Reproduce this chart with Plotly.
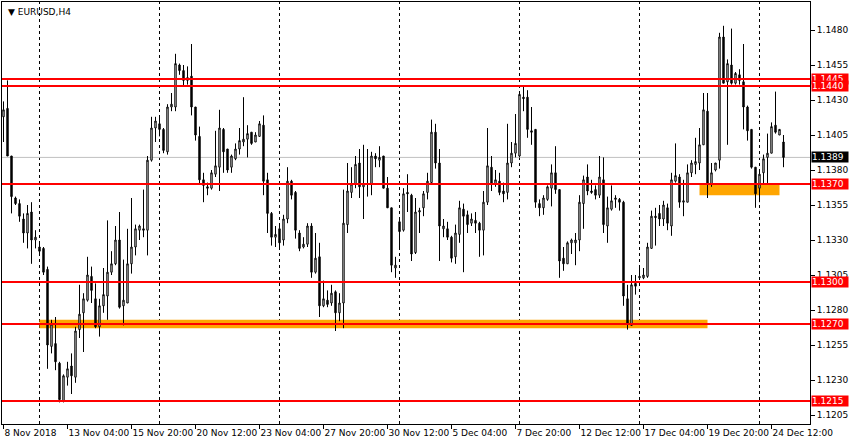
import plotly.graph_objects as go

# EURUSD H4 bars, 8 Nov 2018 12:00 .. 24 Dec 2018 20:00 (one entry per 4h bar)
open_ = [
    1.1418, 1.1424, 1.1390, 1.1360, 1.1356, 1.1345, 1.1335, 1.1350, 1.1330, 1.1325,
    1.1324, 1.1309, 1.1254, 1.1256, 1.1242, 1.1215, 1.1232, 1.1240, 1.1232, 1.1266,
    1.1278, 1.1287, 1.1304, 1.1288, 1.1268, 1.1283, 1.1290, 1.1307, 1.1313, 1.1330,
    1.1283, 1.1285, 1.1313, 1.1325, 1.1337, 1.1338, 1.1337, 1.1387, 1.1410, 1.1413,
    1.1409, 1.1393, 1.1425, 1.1425, 1.1455, 1.1451, 1.1444, 1.1447, 1.1425, 1.1404,
    1.1373, 1.1368, 1.1367, 1.1377, 1.1382, 1.1409, 1.1395, 1.1382, 1.1388, 1.1395,
    1.1400, 1.1402, 1.1407, 1.1400, 1.1404, 1.1412, 1.1373, 1.1349, 1.1332, 1.1338,
    1.1330, 1.1345, 1.1372, 1.1364, 1.1335, 1.1325, 1.1327, 1.1340, 1.1307, 1.1318,
    1.1283, 1.1287, 1.1285, 1.1293, 1.1278, 1.1285, 1.1341, 1.1364, 1.1370, 1.1385,
    1.1368, 1.1370, 1.1370, 1.1390, 1.1387, 1.1390, 1.1367, 1.1353, 1.1310, 1.1343,
    1.1337, 1.1364, 1.1362, 1.1321, 1.1350, 1.1353, 1.1364, 1.1371, 1.1407, 1.1385,
    1.1338, 1.1338, 1.1332, 1.1318, 1.1334, 1.1352, 1.1348, 1.1342, 1.1344, 1.1342,
    1.1337, 1.1357, 1.1382, 1.1370, 1.1372, 1.1365, 1.1364, 1.1385, 1.1392, 1.1390,
    1.1432, 1.1432, 1.1408, 1.1409, 1.1356, 1.1353, 1.1359, 1.1367, 1.1378, 1.1366,
    1.1317, 1.1313, 1.1328, 1.1328, 1.1330, 1.1356, 1.1375, 1.1365, 1.1366, 1.1362,
    1.1373, 1.1340, 1.1352, 1.1359, 1.1359, 1.1357, 1.1288, 1.1269, 1.1299, 1.1303,
    1.1303, 1.1304, 1.1324, 1.1347, 1.1349, 1.1345, 1.1353, 1.1340, 1.1372, 1.1375,
    1.1357, 1.1357, 1.1378, 1.1384, 1.1385, 1.1398, 1.1422, 1.1370, 1.1380, 1.1387,
    1.1475, 1.1443, 1.1455, 1.1442, 1.1448, 1.1443, 1.1425, 1.1409, 1.1382, 1.1367,
    1.1378, 1.1389, 1.1392, 1.1412, 1.1405, 1.1400,
]
high = [
    1.1429, 1.1444, 1.1390, 1.1361, 1.1359, 1.1349, 1.1355, 1.1357, 1.1337, 1.1328,
    1.1325, 1.1311, 1.1273, 1.1275, 1.1243, 1.1234, 1.1243, 1.1249, 1.1268, 1.1298,
    1.1292, 1.1318, 1.1311, 1.1299, 1.1288, 1.1310, 1.1344, 1.1322, 1.1340, 1.1350,
    1.1316, 1.1338, 1.1360, 1.1341, 1.1341, 1.1366, 1.1390, 1.1418, 1.1418, 1.1419,
    1.1410, 1.1427, 1.1435, 1.1463, 1.1456, 1.1455, 1.1454, 1.1470, 1.1425, 1.1411,
    1.1378, 1.1371, 1.1380, 1.1408, 1.1423, 1.1410, 1.1395, 1.1391, 1.1399, 1.1410,
    1.1432, 1.1412, 1.1407, 1.1407, 1.1415, 1.1419, 1.1378, 1.1350, 1.1340, 1.1341,
    1.1348, 1.1382, 1.1373, 1.1365, 1.1337, 1.1332, 1.1342, 1.1342, 1.1335, 1.1328,
    1.1301, 1.1294, 1.1298, 1.1294, 1.1292, 1.1366, 1.1385, 1.1382, 1.1390, 1.1395,
    1.1398, 1.1395, 1.1393, 1.1392, 1.1397, 1.1390, 1.1375, 1.1353, 1.1318, 1.1346,
    1.1367, 1.1377, 1.1363, 1.1360, 1.1353, 1.1365, 1.1378, 1.1416, 1.1413, 1.1395,
    1.1345, 1.1343, 1.1333, 1.1341, 1.1358, 1.1356, 1.1351, 1.1349, 1.1350, 1.1343,
    1.1365, 1.1410, 1.1390, 1.1380, 1.1378, 1.1371, 1.1413, 1.1400, 1.1420, 1.1435,
    1.1440, 1.1437, 1.1425, 1.1409, 1.1359, 1.1362, 1.1369, 1.1384, 1.1397, 1.1366,
    1.1325, 1.1329, 1.1331, 1.1335, 1.1362, 1.1376, 1.1384, 1.1373, 1.1369, 1.1390,
    1.1389, 1.1361, 1.1369, 1.1362, 1.1360, 1.1358, 1.1298, 1.1305, 1.1305, 1.1310,
    1.1310, 1.1328, 1.1351, 1.1353, 1.1355, 1.1358, 1.1356, 1.1378, 1.1399, 1.1377,
    1.1373, 1.1384, 1.1387, 1.1403, 1.1410, 1.1435, 1.1435, 1.1385, 1.1385, 1.1478,
    1.1483, 1.1459, 1.1481, 1.1450, 1.1452, 1.1470, 1.1426, 1.1409, 1.1382, 1.1379,
    1.1391, 1.1406, 1.1414, 1.1436, 1.1409, 1.1405,
]
low = [
    1.1400, 1.1390, 1.1349, 1.1355, 1.1343, 1.1328, 1.1324, 1.1313, 1.1324, 1.1320,
    1.1305, 1.1238, 1.1249, 1.1237, 1.1214, 1.1214, 1.1226, 1.1220, 1.1228, 1.1260,
    1.1250, 1.1286, 1.1285, 1.1267, 1.1261, 1.1278, 1.1273, 1.1305, 1.1312, 1.1281,
    1.1269, 1.1285, 1.1306, 1.1319, 1.1330, 1.1332, 1.1319, 1.1386, 1.1400, 1.1404,
    1.1392, 1.1391, 1.1422, 1.1422, 1.1448, 1.1440, 1.1441, 1.1419, 1.1401, 1.1370,
    1.1357, 1.1362, 1.1366, 1.1375, 1.1365, 1.1378, 1.1378, 1.1378, 1.1387, 1.1391,
    1.1397, 1.1389, 1.1398, 1.1400, 1.1404, 1.1362, 1.1335, 1.1326, 1.1325, 1.1323,
    1.1326, 1.1342, 1.1359, 1.1331, 1.1322, 1.1324, 1.1325, 1.1303, 1.1306, 1.1275,
    1.1282, 1.1282, 1.1283, 1.1265, 1.1272, 1.1267, 1.1335, 1.1360, 1.1367, 1.1360,
    1.1345, 1.1361, 1.1362, 1.1382, 1.1382, 1.1367, 1.1353, 1.1307, 1.1303, 1.1323,
    1.1336, 1.1350, 1.1315, 1.1320, 1.1335, 1.1347, 1.1359, 1.1370, 1.1381, 1.1315,
    1.1332, 1.1330, 1.1314, 1.1313, 1.1328, 1.1307, 1.1335, 1.1340, 1.1335, 1.1318,
    1.1319, 1.1355, 1.1365, 1.1368, 1.1362, 1.1357, 1.1359, 1.1382, 1.1389, 1.1389,
    1.1422, 1.1403, 1.1398, 1.1353, 1.1347, 1.1348, 1.1358, 1.1354, 1.1363, 1.1303,
    1.1308, 1.1313, 1.1320, 1.1312, 1.1322, 1.1338, 1.1362, 1.1363, 1.1359, 1.1360,
    1.1335, 1.1328, 1.1351, 1.1353, 1.1351, 1.1283, 1.1266, 1.1269, 1.1291, 1.1302,
    1.1302, 1.1303, 1.1324, 1.1326, 1.1340, 1.1340, 1.1337, 1.1333, 1.1371, 1.1353,
    1.1347, 1.1357, 1.1375, 1.1377, 1.1380, 1.1398, 1.1360, 1.1368, 1.1379, 1.1381,
    1.1442, 1.1398, 1.1441, 1.1441, 1.1441, 1.1409, 1.1401, 1.1381, 1.1353, 1.1357,
    1.1370, 1.1370, 1.1392, 1.1406, 1.1405, 1.1382,
]
close = [
    1.1423, 1.1390, 1.1361, 1.1356, 1.1347, 1.1335, 1.1349, 1.1330, 1.1332, 1.1322,
    1.1307, 1.1255, 1.1270, 1.1243, 1.1216, 1.1233, 1.1238, 1.1233, 1.1265, 1.1277,
    1.1288, 1.1305, 1.1294, 1.1268, 1.1283, 1.1291, 1.1307, 1.1313, 1.1330, 1.1282,
    1.1287, 1.1313, 1.1325, 1.1338, 1.1340, 1.1337, 1.1387, 1.1410, 1.1415, 1.1409,
    1.1394, 1.1425, 1.1427, 1.1456, 1.1451, 1.1444, 1.1446, 1.1425, 1.1405, 1.1373,
    1.1369, 1.1367, 1.1378, 1.1383, 1.1410, 1.1393, 1.1380, 1.1390, 1.1395, 1.1401,
    1.1402, 1.1406, 1.1399, 1.1405, 1.1413, 1.1372, 1.1349, 1.1332, 1.1334, 1.1328,
    1.1345, 1.1372, 1.1362, 1.1337, 1.1324, 1.1327, 1.1340, 1.1307, 1.1317, 1.1283,
    1.1288, 1.1284, 1.1292, 1.1278, 1.1285, 1.1342, 1.1365, 1.1370, 1.1384, 1.1368,
    1.1370, 1.1370, 1.1390, 1.1388, 1.1389, 1.1367, 1.1353, 1.1312, 1.1312, 1.1336,
    1.1363, 1.1363, 1.1320, 1.1350, 1.1351, 1.1363, 1.1372, 1.1407, 1.1385, 1.1340,
    1.1340, 1.1332, 1.1317, 1.1335, 1.1353, 1.1347, 1.1341, 1.1345, 1.1342, 1.1337,
    1.1357, 1.1383, 1.1370, 1.1373, 1.1364, 1.1363, 1.1385, 1.1392, 1.1399, 1.1434,
    1.1431, 1.1409, 1.1407, 1.1357, 1.1353, 1.1360, 1.1368, 1.1378, 1.1366, 1.1315,
    1.1313, 1.1328, 1.1330, 1.1330, 1.1357, 1.1373, 1.1365, 1.1364, 1.1362, 1.1375,
    1.1341, 1.1353, 1.1358, 1.1360, 1.1357, 1.1290, 1.1270, 1.1298, 1.1297, 1.1304,
    1.1305, 1.1325, 1.1347, 1.1346, 1.1345, 1.1355, 1.1342, 1.1373, 1.1376, 1.1357,
    1.1358, 1.1378, 1.1385, 1.1386, 1.1398, 1.1423, 1.1370, 1.1378, 1.1385, 1.1475,
    1.1442, 1.1456, 1.1442, 1.1449, 1.1444, 1.1425, 1.1408, 1.1382, 1.1363, 1.1377,
    1.1388, 1.1392, 1.1411, 1.1407, 1.1409, 1.1389,
]

# time labels on the bottom scale (bar index -> text)
label_bars = [0, 16, 32, 48, 64, 80, 96, 112, 128, 144, 160, 176, 192]
label_text = ["8 Nov 2018", "13 Nov 04:00", "15 Nov 20:00", "20 Nov 12:00",
              "23 Nov 04:00", "27 Nov 20:00", "30 Nov 12:00", "5 Dec 04:00",
              "7 Dec 20:00", "12 Dec 12:00", "17 Dec 04:00", "19 Dec 20:00",
              "24 Dec 12:00"]
week_bars = [9, 39, 69, 99, 129, 159, 189]  # Monday 00:00 separators

price_ticks = [1.1205, 1.1230, 1.1255, 1.1280, 1.1305, 1.1330, 1.1355,
               1.1380, 1.1405, 1.1430, 1.1455, 1.1480]
levels = [1.1445, 1.1440, 1.1370, 1.1300, 1.1270, 1.1215]
last_price = 1.1389

# support / resistance zones: start bar, end bar, low, high
zone_start = [9, 174]
zone_end = [176, 194]
zone_low = [1.1267, 1.1362]
zone_high = [1.1273, 1.1370]

FONT = "DejaVu Sans"
bars = list(range(len(open_)))

fig = go.Figure()
fig.add_trace(go.Candlestick(
    x=bars, open=open_, high=high, low=low, close=close,
    increasing={"line": {"color": "black", "width": 1}, "fillcolor": "white"},
    decreasing={"line": {"color": "black", "width": 1}, "fillcolor": "black"},
    whiskerwidth=0, hoverinfo="skip", showlegend=False
))

shapes = []
for b in week_bars:
    shapes.append(dict(type="line", xref="x", yref="paper", x0=b, x1=b, y0=0, y1=1,
                       line={"color": "black", "width": 1, "dash": "3px,3px"}, layer="below"))
for x0, x1, lo, hi in zip(zone_start, zone_end, zone_low, zone_high):
    shapes.append(dict(type="rect", xref="x", yref="y", x0=x0, x1=x1, y0=lo, y1=hi,
                       fillcolor="#FFA500", line={"width": 0}, layer="below"))
shapes.append(dict(type="line", xref="paper", yref="y", x0=0, x1=1, y0=last_price, y1=last_price,
                   line={"color": "#C0C0C0", "width": 1}, layer="below"))
for lv in levels:
    shapes.append(dict(type="line", xref="paper", yref="y", x0=0, x1=1, y0=lv, y1=lv,
                       line={"color": "#FF0000", "width": 2}, layer="above"))

annotations = []
for lv in levels:
    annotations.append(dict(xref="paper", yref="y", x=1, y=lv, xanchor="left", yanchor="middle",
                            xshift=1, text=f"{lv:.4f}", showarrow=False, bgcolor="#FF0000",
                            font={"family": FONT, "size": 9, "color": "white"},
                            width=36, align="left", borderpad=0))
annotations.append(dict(xref="paper", yref="y", x=1, y=last_price, xanchor="left", yanchor="middle",
                        xshift=1, text=f"{last_price:.4f}", showarrow=False, bgcolor="black",
                        font={"family": FONT, "size": 9, "color": "white"},
                        width=36, align="left", borderpad=0))
annotations.append(dict(xref="paper", yref="paper", x=0, y=1, xanchor="left", yanchor="top",
                        xshift=4, yshift=-3, text="▼ EURUSD,H4", showarrow=False,
                        font={"family": FONT, "size": 9, "color": "black"}))

fig.update_layout(
    width=850, height=445,
    margin={"l": 2, "r": 40, "t": 2, "b": 21, "autoexpand": False},
    paper_bgcolor="white", plot_bgcolor="white",
    boxgap=0.5,
    shapes=shapes, annotations=annotations,
    showlegend=False,
    xaxis={
        "range": [-0.375, 201.625], "rangeslider": {"visible": False},
        "tickvals": label_bars, "ticktext": label_text, "tickangle": 0,
        "ticks": "outside", "ticklen": 4, "tickcolor": "black",
        "ticklabelposition": "outside right", "automargin": False,
        "tickfont": {"family": FONT, "size": 9, "color": "black"},
        "showgrid": False, "zeroline": False,
        "showline": True, "linecolor": "black", "linewidth": 1, "mirror": True,
    },
    yaxis={
        "side": "right", "range": [1.119857, 1.15], "automargin": False,
        "tickvals": price_ticks, "ticktext": [f"{p:.4f}" for p in price_ticks],
        "ticks": "outside", "ticklen": 4, "tickcolor": "black",
        "tickfont": {"family": FONT, "size": 9, "color": "black"},
        "showgrid": False, "zeroline": False,
        "showline": True, "linecolor": "black", "linewidth": 1, "mirror": True,
    },
)

# drop the default page margin so the chart sits at the window's top-left corner
fig.write_html("out.html", config={"displayModeBar": False},
               post_script="document.body.style.margin='0';")
